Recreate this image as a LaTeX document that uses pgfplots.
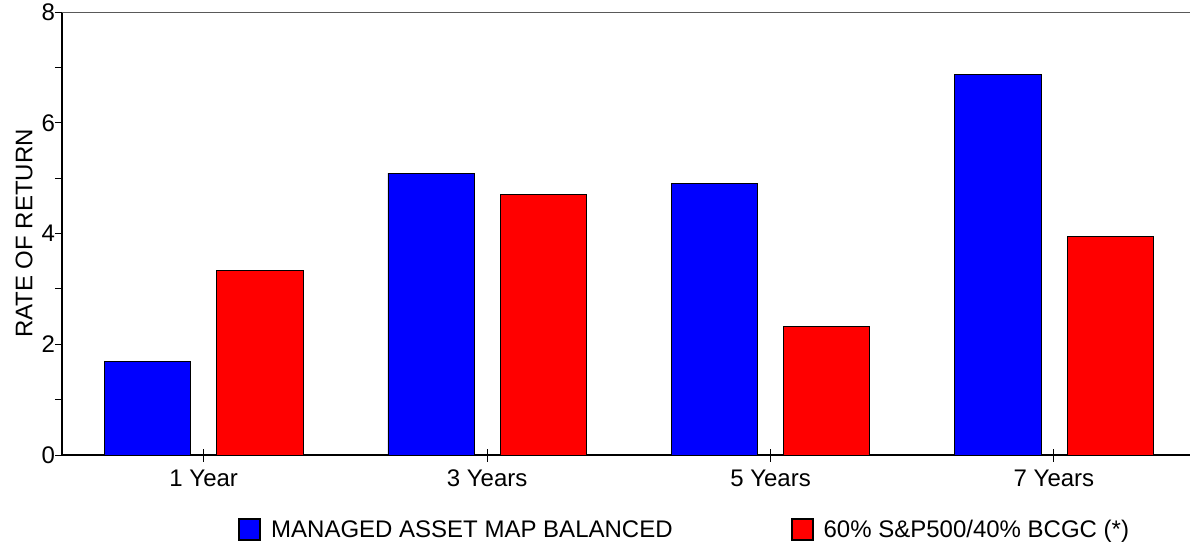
\documentclass[border=0pt]{standalone}
\usepackage{fontspec}
\setmainfont{Liberation Sans}
\usepackage{pgfplots}
\pgfplotsset{compat=1.18}
\begin{document}
\begin{tikzpicture}
\begin{axis}[
  at={(0,0)}, anchor=south west,
  scale only axis, width=1128pt, height=443pt,
  xmin=-0.5, xmax=3.48, ymin=0, ymax=8,
  axis x line*=bottom, axis y line*=left,
  axis line style={line width=1.3pt, black, -},
  xtick={0,1,2,3},
  xticklabels={1 Year, 3 Years, 5 Years, 7 Years},
  ytick={0,2,4,6,8},
  minor ytick={1,3,5,7},
  tick align=outside,
  xtick align=center,
  major tick length=7pt, minor tick length=7pt,
  tick style={line width=1pt, black},
  major x tick style={/pgfplots/major tick length=13pt},
  /pgf/number format/assume math mode=true,
  tick label style={font=\fontsize{24}{28}\selectfont},
  yticklabel style={xshift=3.5pt},
  xticklabel style={text height=17pt, text depth=5pt, yshift=-7pt},
  ylabel={RATE OF RETURN},
  ylabel style={font=\fontsize{24}{28}\selectfont, at={(axis description cs:0,0.5)}, anchor=center, yshift=38pt},
  legend columns=2,
  legend style={draw=none, fill=none, inner sep=0pt, at={(rel axis cs:0,0)}, anchor=north west,
    xshift=176pt, yshift=-63pt, font=\fontsize{24}{28}\selectfont,
    nodes={inner sep=0pt},
    /tikz/every odd column/.append style={column sep=10pt},
    /tikz/every even column/.append style={column sep=118pt}},
  legend image code/.code={\draw[#1, draw=black, line width=2pt] (0pt,-10.5pt) rectangle (21pt,10.5pt);},
  clip=false,
]
\addplot[ybar, bar width=0.304, bar shift=-0.198, fill={rgb,255:red,0;green,0;blue,255}, draw=black, line width=0.8pt]
  coordinates {(0,1.69) (1,5.09) (2,4.91) (3,6.87)};
\addlegendentry{MANAGED ASSET MAP BALANCED}
\addplot[ybar, bar width=0.304, bar shift=0.198, fill={rgb,255:red,255;green,0;blue,0}, draw=black, line width=0.8pt]
  coordinates {(0,3.33) (1,4.71) (2,2.32) (3,3.94)};
\addlegendentry{60\% S\&P500/40\% BCGC (*)}
\draw[gray!70!black, line width=1pt] (rel axis cs:0,1) -- (rel axis cs:1,1);
\end{axis}
\pgfresetboundingbox
\path (-62pt,-89pt) rectangle (1128pt,455pt);
\end{tikzpicture}
\end{document}
